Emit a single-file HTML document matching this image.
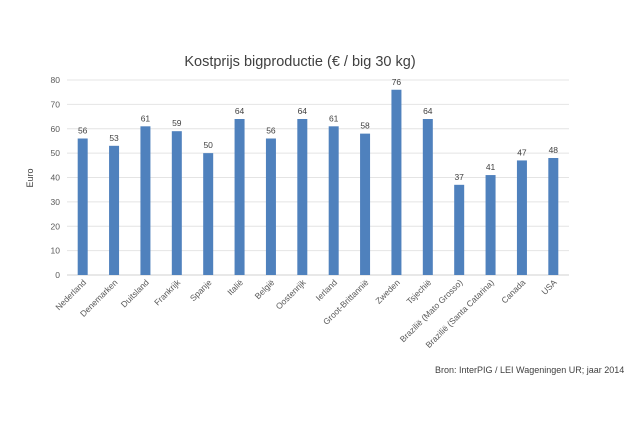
<!DOCTYPE html>
<html><head><meta charset="utf-8"><style>
body{margin:0;background:#fff;font-family:"Liberation Sans",sans-serif}
</style></head><body>
<svg width="636" height="424" id="c" style="display:block">
<text x="300" y="66" text-anchor="middle" font-size="14.5" fill="#404040">Kostprijs bigproductie (€ / big 30 kg)</text>
<text transform="translate(33,178) rotate(-90)" text-anchor="middle" font-size="9" fill="#404040">Euro</text>
<text x="435" y="373" font-size="9" fill="#404040">Bron: InterPIG / LEI Wageningen UR; jaar 2014</text>
<g id="grid"></g><g id="bars"></g><g id="xl"></g>
</svg>
<script>
const categories=["Nederland","Denemarken","Duitsland","Frankrijk","Spanje","Italië","België","Oostenrijk","Ierland","Groot-Brittannië","Zweden","Tsjechië","Brazilië (Mato Grosso)","Brazilië (Santa Catarina)","Canada","USA"];
const values=[56,53,61,59,50,64,56,64,61,58,76,64,37,41,47,48];
const yTicks=[0,10,20,30,40,50,60,70,80];
const NS="http://www.w3.org/2000/svg";
const L=67,R=569,T=80,B=275;
const band=(R-L)/categories.length;
const x=i=>L+band*(i+0.5);
const y=v=>B-(v/80)*(B-T);
function mk(t,a,p){const e=document.createElementNS(NS,t);for(const k in a)e.setAttribute(k,a[k]);p.appendChild(e);return e;}
const g=document.getElementById('grid');
yTicks.forEach(v=>{
 const l=mk('line',{x1:L,x2:R,y1:y(v),y2:y(v),stroke:v===0?'#d0d0d0':'#e4e4e4','stroke-width':1},g);
 
 
 const t=mk('text',{x:60,y:y(v)+3,'text-anchor':'end','font-size':8.5,fill:'#595959'},g);
 t.textContent=v;
 
 
});
const bg=document.getElementById('bars'),xl=document.getElementById('xl');
values.forEach((v,i)=>{
 const r=mk('rect',{x:x(i)-5,y:y(v),width:10,height:B-y(v),fill:'#4f81bd'},bg);
 
 
 const t=mk('text',{x:x(i),y:y(v)-5,'text-anchor':'middle','font-size':8.5,fill:'#404040'},bg);
 t.textContent=v;
 
 
 const c=mk('text',{transform:`translate(${x(i)+4},${B+8}) rotate(-45)`,'text-anchor':'end','font-size':8.5,fill:'#595959'},xl);
 c.textContent=categories[i];
 
 
});
</script>
</body></html>
